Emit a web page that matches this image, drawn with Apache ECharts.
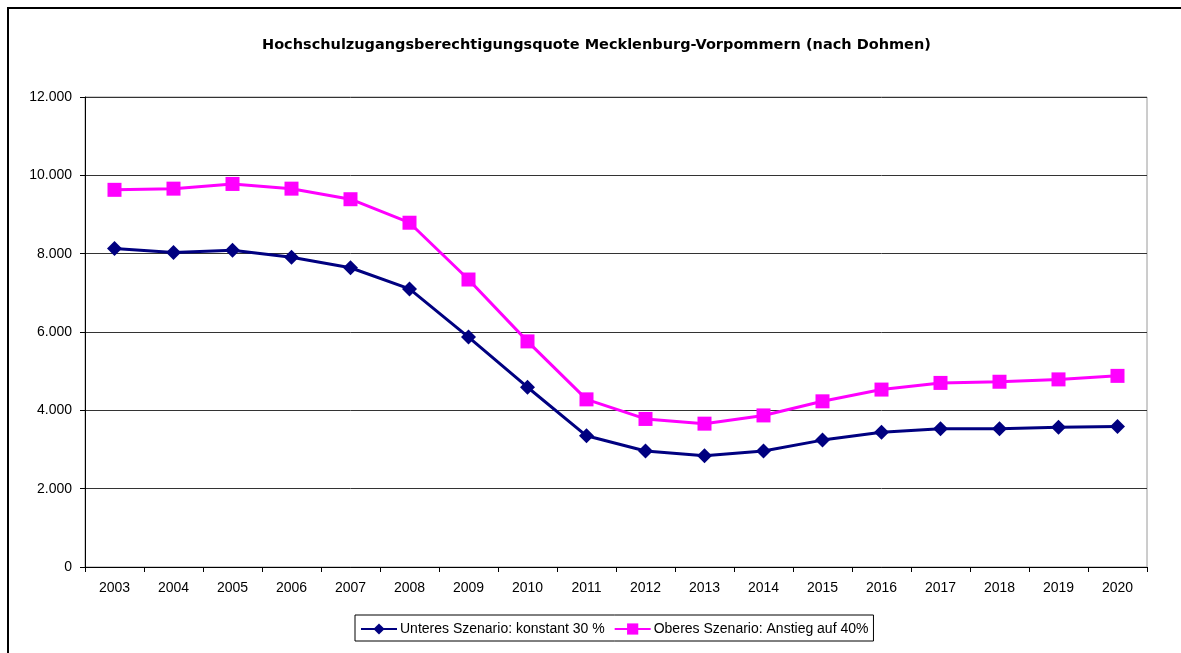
<!DOCTYPE html>
<html>
<head>
<meta charset="utf-8">
<title>Hochschulzugangsberechtigungsquote Mecklenburg-Vorpommern</title>
<script src="https://cdn.jsdelivr.net/npm/echarts@6/dist/echarts.min.js"></script>
<style>
  html, body { margin: 0; padding: 0; background: #fff; }
  #chart { width: 1181px; height: 653px; }
</style>
</head>
<body>
<div id="chart"></div>
<script>
// Jahre (Kategorien)
var years = ['2003', '2004', '2005', '2006', '2007', '2008', '2009', '2010', '2011',
             '2012', '2013', '2014', '2015', '2016', '2017', '2018', '2019', '2020'];

// Unteres Szenario: konstant 30 %
var unteres = [8130, 8030, 8090, 7910, 7640, 7100, 5870, 4590, 3350,
               2960, 2840, 2960, 3240, 3440, 3530, 3530, 3570, 3590];

// Oberes Szenario: Anstieg auf 40%
var oberes = [9630, 9660, 9780, 9660, 9390, 8790, 7340, 5760, 4280,
              3780, 3660, 3870, 4230, 4530, 4700, 4730, 4790, 4880];

var seriesNames = ['Unteres Szenario: konstant 30 %', 'Oberes Szenario: Anstieg auf 40%'];

// y-Achse
var yMin = 0, yMax = 12000, yStep = 2000;

var font = '"Liberation Sans", Arial, sans-serif';

function fmtDe(v) {
  // Tausenderpunkt wie im Original
  return String(v).replace(/\B(?=(\d{3})+(?!\d))/g, '.');
}

var chart = echarts.init(document.getElementById('chart'), null, { renderer: 'canvas' });

chart.setOption({
  animation: false,
  backgroundColor: '#fff',
  title: {
    text: 'Hochschulzugangsberechtigungsquote Mecklenburg-Vorpommern (nach Dohmen)',
    left: 262,
    top: 38,
    padding: 0,
    textStyle: {
      fontFamily: '"DejaVu Sans", sans-serif',
      fontWeight: 'bold',
      fontSize: 14.5,
      color: '#000'
    }
  },
  graphic: [{
    type: 'rect',
    silent: true,
    z: 100,
    shape: { x: 8, y: 8, width: 1400, height: 900 },
    style: { fill: 'none', stroke: '#000', lineWidth: 2 }
  }],
  grid: {
    left: 85,
    right: 34,
    top: 97,
    bottom: 86,
    show: true,
    borderColor: '#9a9a9a',
    borderWidth: 1,
    backgroundColor: '#fff'
  },
  legend: {
    left: 355,
    top: 615,
    padding: [7, 5, 5, 5],
    itemWidth: 36,
    itemHeight: 14,
    itemGap: 9,
    borderColor: '#000',
    borderWidth: 1,
    textStyle: { fontFamily: font, fontSize: 14, color: '#000', padding: [0, 0, 0, -2] },
    data: seriesNames
  },
  xAxis: {
    type: 'category',
    boundaryGap: true,
    data: years,
    axisLine: { show: true, lineStyle: { color: '#000', width: 1 } },
    axisTick: { show: true, length: 5, inside: false, lineStyle: { color: '#000' } },
    axisLabel: { color: '#000', fontFamily: font, fontSize: 14, margin: 14 },
    splitLine: { show: false }
  },
  yAxis: {
    type: 'value',
    min: yMin,
    max: yMax,
    interval: yStep,
    axisLine: { show: true, lineStyle: { color: '#000', width: 1 } },
    axisTick: { show: true, length: 5, inside: false, lineStyle: { color: '#000' } },
    axisLabel: {
      color: '#000',
      fontFamily: font,
      fontSize: 14,
      margin: 13,
      formatter: function (v) { return fmtDe(v); }
    },
    splitLine: { show: true, lineStyle: { color: '#333', width: 1 } }
  },
  series: [{
    name: seriesNames[0],
    type: 'line',
    data: unteres,
    symbol: 'diamond',
    symbolSize: 15,
    color: '#000080',
    lineStyle: { color: '#000080', width: 3 },
    itemStyle: { color: '#000080' },
    z: 3
  }, {
    name: seriesNames[1],
    type: 'line',
    data: oberes,
    symbol: 'rect',
    symbolSize: 14,
    color: '#ff00ff',
    lineStyle: { color: '#ff00ff', width: 3 },
    itemStyle: { color: '#ff00ff' },
    z: 2
  }]
});
</script>
</body>
</html>
